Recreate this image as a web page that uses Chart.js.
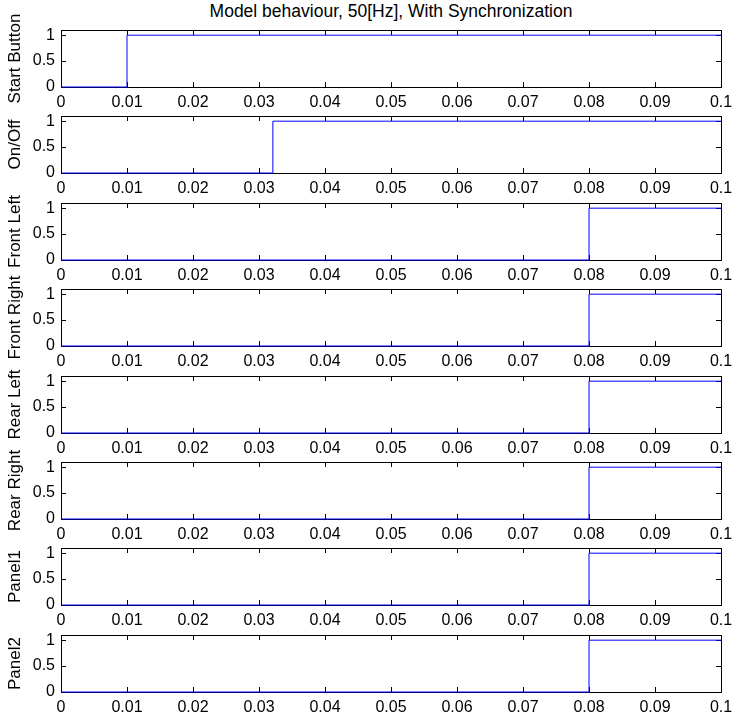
<!DOCTYPE html>
<html>
<head>
<meta charset="utf-8">
<script src="https://cdn.jsdelivr.net/npm/chart.js@4"></script>
<style>
  body { margin: 0; background: #fff; }
  #wrap { position: relative; width: 733px; height: 716px; overflow: hidden; }
  #wrap canvas { position: absolute; left: 0; }
  #title {
    position: absolute; left: 61px; width: 660px; top: 1px;
    text-align: center; font: 17.5px/20px "Liberation Sans", Arial, sans-serif; color: #000;
  }
</style>
</head>
<body>
<div id="wrap">
  <div id="title">Model behaviour, 50[Hz], With Synchronization</div>
</div>
<script>
// panel names (y axis titles)
var panelNames = ['Start Button', 'On/Off', 'Front Left', 'Front Right', 'Rear Left', 'Rear Right', 'Panel1', 'Panel2'];

// time points of each trace (seconds)
var timeStartButton = [0, 0.01, 0.01, 0.1];
var timeOnOff = [0, 0.0321, 0.0321, 0.1];
var timeFrontLeft = [0, 0.08, 0.08, 0.1];
var timeFrontRight = [0, 0.08, 0.08, 0.1];
var timeRearLeft = [0, 0.08, 0.08, 0.1];
var timeRearRight = [0, 0.08, 0.08, 0.1];
var timePanel1 = [0, 0.08, 0.08, 0.1];
var timePanel2 = [0, 0.08, 0.08, 0.1];

// signal levels
var startButton = [0, 0, 1, 1];
var onOff = [0, 0, 1, 1];
var frontLeft = [0, 0, 1, 1];
var frontRight = [0, 0, 1, 1];
var rearLeft = [0, 0, 1, 1];
var rearRight = [0, 0, 1, 1];
var panel1 = [0, 0, 1, 1];
var panel2 = [0, 0, 1, 1];

// axis ticks
var xTickValues = [0, 0.01, 0.02, 0.03, 0.04, 0.05, 0.06, 0.07, 0.08, 0.09, 0.1];
var xTickLabels = ['0', '0.01', '0.02', '0.03', '0.04', '0.05', '0.06', '0.07', '0.08', '0.09', '0.1'];
var yTickValues = [0, 0.5, 1];
var yTickLabels = ['0', '0.5', '1'];

var times = [timeStartButton, timeOnOff, timeFrontLeft, timeFrontRight, timeRearLeft, timeRearRight, timePanel1, timePanel2];
var levels = [startButton, onOff, frontLeft, frontRight, rearLeft, rearRight, panel1, panel2];

Chart.defaults.font.family = '"Liberation Sans", Arial, sans-serif';
Chart.defaults.font.size = 16;
Chart.defaults.color = '#000';

// MATLAB-like box with inward ticks on all four sides
var boxPlugin = {
  id: 'box',
  beforeDatasetsDraw: function(chart) {
    var ctx = chart.ctx, a = chart.chartArea, xs = chart.scales.x, ys = chart.scales.y;
    var tl = 5;
    ctx.save();
    ctx.strokeStyle = '#000';
    ctx.lineWidth = 1;
    ctx.beginPath();
    xs.ticks.forEach(function(t) {
      var px = Math.round(xs.getPixelForValue(t.value)) + 0.5;
      ctx.moveTo(px, a.bottom); ctx.lineTo(px, a.bottom - tl);
      ctx.moveTo(px, a.top); ctx.lineTo(px, a.top + tl);
    });
    ys.ticks.forEach(function(t) {
      var py = Math.round(ys.getPixelForValue(t.value)) + 0.5;
      ctx.moveTo(a.left, py); ctx.lineTo(a.left + tl, py);
      ctx.moveTo(a.right, py); ctx.lineTo(a.right - tl, py);
    });
    ctx.stroke();
    ctx.strokeRect(Math.round(a.left) + 0.5, Math.round(a.top) + 0.5,
      Math.round(a.right - a.left), Math.round(a.bottom - a.top));
    ctx.restore();
  }
};

var wrap = document.getElementById('wrap');
window.charts = [];

panelNames.forEach(function(name, i) {
  var panelTop = Math.round(30 + i * 86.4);
  var cv = document.createElement('canvas');
  cv.width = 733;
  cv.height = 116;
  cv.style.top = (panelTop - 30) + 'px';
  wrap.appendChild(cv);

  var pts = times[i].map(function(t, k) { return { x: t, y: levels[i][k] }; });

  var config = {
    type: 'line',
    data: {
      datasets: [{
        data: pts,
        borderColor: '#0000ff',
        borderWidth: 1,
        pointRadius: 0,
        fill: false,
        tension: 0,
        clip: 2
      }]
    },
    options: {
      responsive: false,
      animation: false,
      events: [],
      layout: { padding: { left: 0, right: 12, top: 30, bottom: 0 } },
      plugins: { legend: { display: false }, tooltip: { enabled: false }, title: { display: false } },
      scales: {
        x: {
          type: 'linear',
          min: 0,
          max: 0.1,
          grid: { display: false, drawTicks: false },
          border: { display: false },
          afterBuildTicks: function(s) { s.ticks = xTickValues.map(function(v) { return { value: v }; }); },
          afterFit: function(s) { s.height = 29; s.paddingLeft = 0; s.paddingRight = 0; },
          ticks: {
            padding: 6,
            maxRotation: 0,
            autoSkip: false,
            callback: function(v, idx) { return xTickLabels[idx]; }
          }
        },
        y: {
          min: 0,
          max: 1.1,
          grid: { display: false, drawTicks: false },
          border: { display: false },
          afterBuildTicks: function(s) { s.ticks = yTickValues.map(function(v) { return { value: v }; }); },
          afterFit: function(s) { s.width = 61; s.paddingTop = 0; s.paddingBottom = 0; },
          ticks: {
            padding: 6,
            autoSkip: false,
            callback: function(v, idx) { return yTickLabels[idx]; }
          },
          title: {
            display: true,
            text: name,
            font: { size: 17 },
            padding: { top: 5, bottom: 0 }
          }
        }
      }
    },
    plugins: [boxPlugin]
  };
  window.charts.push(new Chart(cv.getContext('2d'), config));
});
</script>
</body>
</html>
